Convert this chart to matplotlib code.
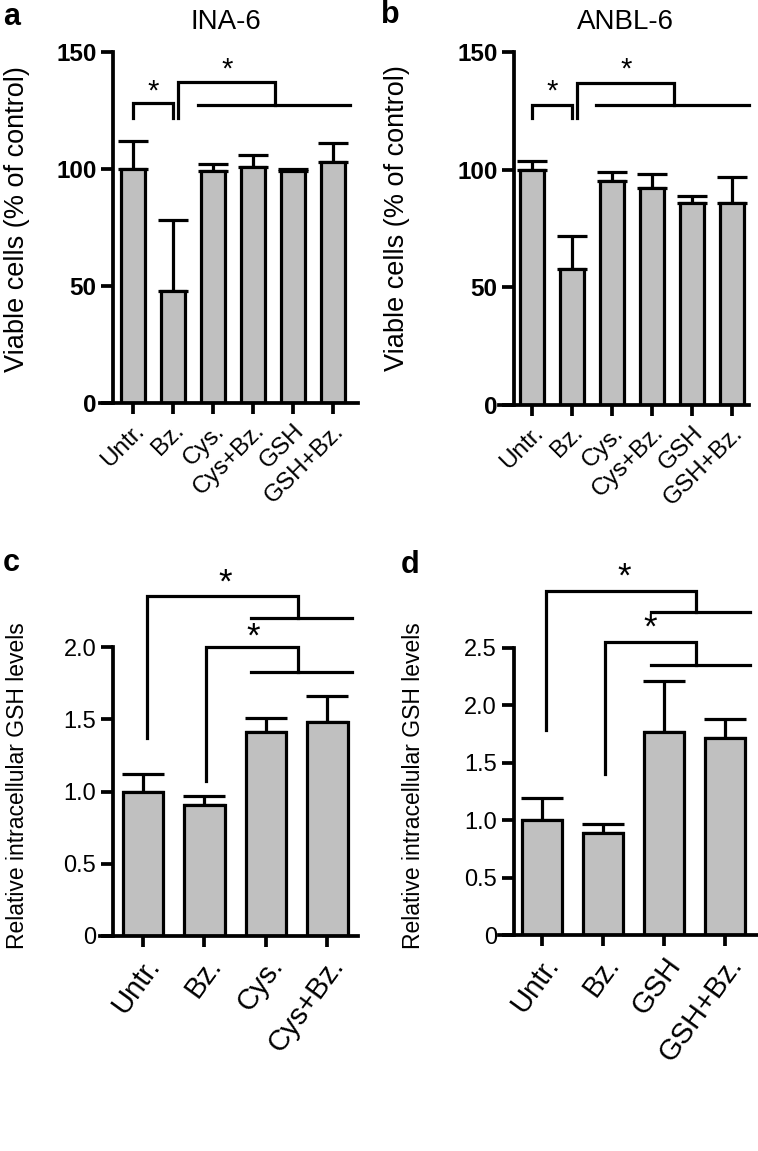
import numpy as np
import matplotlib
matplotlib.use("Agg")
import matplotlib.pyplot as plt

plt.rcParams['font.family'] = ['Liberation Sans', 'DejaVu Sans']

# ---- data ----
labels_ab = ["Untr.", "Bz.", "Cys.", "Cys+Bz.", "GSH", "GSH+Bz."]
ina6_mean = [100, 48, 99, 101, 99, 103]
ina6_err = [12, 30, 3, 5, 1, 8]
anbl6_mean = [100, 58, 95, 92, 86, 86]
anbl6_err = [3.5, 14, 4, 6, 3, 11]

labels_c = ["Untr.", "Bz.", "Cys.", "Cys+Bz."]
gsh_c_mean = [1.0, 0.91, 1.41, 1.48]
gsh_c_err = [0.12, 0.06, 0.10, 0.18]

labels_d = ["Untr.", "Bz.", "GSH", "GSH+Bz."]
gsh_d_mean = [1.0, 0.89, 1.77, 1.72]
gsh_d_err = [0.19, 0.08, 0.44, 0.16]

BAR_COLOR = "#c0c0c0"
LW = 2.3
W, H = 758, 1151


def px_axes(x0, x1, y0, y1):
    # pixel box (left, right, bottom, top) -> figure fraction
    return [x0 / W, 1 - y0 / H, (x1 - x0) / W, (y0 - y1) / H]


def bar_panel(ax, labels, means, errs, width, capsize, spine_x, xtick_size, rot=45):
    x = np.arange(len(labels))
    ax.bar(x, means, width=width, color=BAR_COLOR, edgecolor="black", linewidth=LW, zorder=2)
    ax.errorbar(x, means, yerr=[np.zeros(len(errs)), errs], fmt="none", ecolor="black",
                elinewidth=LW, capsize=capsize, capthick=LW, zorder=1)
    for s in ["top", "right"]:
        ax.spines[s].set_visible(False)
    ax.spines["left"].set_position(("data", spine_x))
    ax.spines["left"].set_linewidth(LW + 0.4)
    ax.spines["bottom"].set_linewidth(LW + 0.4)
    ax.set_xticks(x)
    ax.set_xticklabels(labels, rotation=rot, ha="right", va="top", rotation_mode="anchor",
                       fontsize=xtick_size)
    ax.tick_params(axis="x", length=8, width=LW + 0.4, pad=4)
    ax.tick_params(axis="y", length=9, width=LW + 0.4, pad=3)
    ax.patch.set_visible(False)


def set_yticks(ax, ticks, texts, size, bold):
    ax.set_yticks(ticks)
    ax.set_yticklabels(texts, fontsize=size, fontweight="bold" if bold else "normal")


def set_ylabel(ax, text, size, xfrac, yfrac):
    ax.set_ylabel(text, fontsize=size)
    ax.yaxis.label.set_va("center")
    ax.yaxis.set_label_coords(xfrac, yfrac)


def bracket(ax, xs, ys):
    ax.plot(xs, ys, color="black", lw=LW, clip_on=False, solid_joinstyle="miter", zorder=3)


def star(ax, x, y, size):
    ax.text(x, y, "*", ha="center", va="center", fontsize=size, clip_on=False)


fig = plt.figure(figsize=(W / 100, H / 100), dpi=100)

# ---- panel a ----
ax_a = fig.add_axes(px_axes(100, 358, 403, 52))
bar_panel(ax_a, labels_ab, ina6_mean, ina6_err, 0.6, 11, -0.5, 17.5)
ax_a.set_xlim(-0.83, 5.63)
ax_a.set_ylim(0, 150)
set_yticks(ax_a, [0, 50, 100, 150], ["0", "50", "100", "150"], 17.5, True)
set_ylabel(ax_a, "Viable cells (% of control)", 19.5, -0.32, 0.524)
bracket(ax_a, [0, 0, 1, 1], [122, 128, 128, 122])
star(ax_a, 0.5, 133, 21)
bracket(ax_a, [1.12, 1.12, 3.55, 3.55], [122, 137, 137, 127.5])
bracket(ax_a, [1.63, 5.43], [127.5, 127.5])
star(ax_a, 2.35, 142.5, 21)

# ---- panel b ----
ax_b = fig.add_axes(px_axes(499, 749, 405, 52))
bar_panel(ax_b, labels_ab, anbl6_mean, anbl6_err, 0.6, 11, -0.45, 17.5)
ax_b.set_xlim(-0.83, 5.43)
ax_b.set_ylim(0, 150)
set_yticks(ax_b, [0, 50, 100, 150], ["0", "50", "100", "150"], 17.5, True)
set_ylabel(ax_b, "Viable cells (% of control)", 19.5, -0.41, 0.53)
bracket(ax_b, [0, 0, 1, 1], [122, 127.5, 127.5, 122])
star(ax_b, 0.5, 133, 21)
bracket(ax_b, [1.12, 1.12, 3.55, 3.55], [122, 137, 137, 127.5])
bracket(ax_b, [1.6, 5.43], [127.5, 127.5])
star(ax_b, 2.35, 142.5, 21)

# ---- panel c ----
ax_c = fig.add_axes(px_axes(100, 358, 936, 647))
bar_panel(ax_c, labels_c, gsh_c_mean, gsh_c_err, 0.66, 15, -0.49, 21, rot=54)
ax_c.set_xlim(-0.7, 3.5)
ax_c.set_ylim(0, 2.0)
set_yticks(ax_c, [0, 0.5, 1.0, 1.5, 2.0], ["0", "0.5", "1.0", "1.5", "2.0"], 17, False)
set_ylabel(ax_c, "Relative intracellular GSH levels", 16.5, -0.318, 0.52)
bracket(ax_c, [0.07, 0.07, 2.53, 2.53], [1.37, 2.35, 2.35, 2.20])
bracket(ax_c, [1.75, 3.41], [2.20, 2.20])
star(ax_c, 1.34, 2.44, 25)
bracket(ax_c, [1.03, 1.03, 2.53, 2.53], [1.07, 2.0, 2.0, 1.83])
bracket(ax_c, [1.75, 3.41], [1.83, 1.83])
star(ax_c, 1.8, 2.07, 25)

# ---- panel d ----
ax_d = fig.add_axes(px_axes(499, 757, 935, 648))
bar_panel(ax_d, labels_d, gsh_d_mean, gsh_d_err, 0.66, 15, -0.46, 21, rot=54)
ax_d.set_xlim(-0.7, 3.52)
ax_d.set_ylim(0, 2.5)
set_yticks(ax_d, [0, 0.5, 1.0, 1.5, 2.0, 2.5], ["0", "0.5", "1.0", "1.5", "2.0", "2.5"], 17, False)
set_ylabel(ax_d, "Relative intracellular GSH levels", 16.5, -0.333, 0.52)
bracket(ax_d, [0.07, 0.07, 2.53, 2.53], [1.79, 3.0, 3.0, 2.81])
bracket(ax_d, [1.78, 3.41], [2.81, 2.81])
star(ax_d, 1.34, 3.12, 25)
bracket(ax_d, [1.03, 1.03, 2.53, 2.53], [1.40, 2.55, 2.55, 2.35])
bracket(ax_d, [1.78, 3.41], [2.35, 2.35])
star(ax_d, 1.78, 2.67, 25)

# titles and panel letters
fig.text(226 / W, 1 - 22 / H, "INA-6", fontsize=20, ha="center", va="center")
fig.text(625 / W, 1 - 22 / H, "ANBL-6", fontsize=20, ha="center", va="center")
for lab, (x, y) in zip("abcd", [(3, 25), (381, 23), (3, 571), (401, 573)]):
    fig.text(x / W, 1 - y / H, lab, fontsize=22, fontweight="bold", ha="left", va="baseline")

fig.savefig("out.png", dpi=100)
